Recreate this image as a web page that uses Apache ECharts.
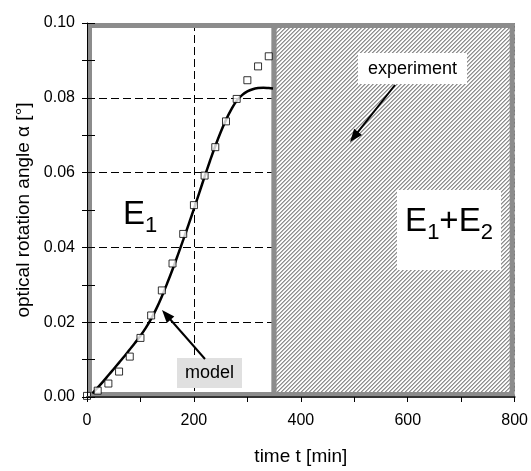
<!DOCTYPE html>
<html>
<head>
<meta charset="utf-8">
<script src="https://cdn.jsdelivr.net/npm/echarts@6/dist/echarts.min.js"></script>
<style>html,body{margin:0;padding:0;background:#fff}#c{width:531px;height:471px}</style>
</head>
<body>
<div id="c"></div>
<script>
// ---------- data ----------
const expT = [0, 20, 40, 60, 80, 100, 120, 140, 160, 180, 200, 220, 240, 260, 280, 300, 320, 340];
const expAlpha = [0.0003, 0.0017, 0.0036, 0.0068, 0.0108, 0.0158, 0.0218, 0.0285, 0.0357, 0.0436, 0.0513, 0.0592, 0.0668, 0.0737, 0.0797, 0.0847, 0.0884, 0.0911];
const modelT = [10, 20, 30, 40, 50, 60, 70, 80, 90, 100, 110, 120, 130, 140, 150, 160, 170, 180, 190, 200, 210, 220, 230, 240, 250, 260, 270, 280, 290, 300, 310, 320, 330, 340, 348];
const modelAlpha = [0.0010, 0.0025, 0.0041, 0.0058, 0.0075, 0.0092, 0.0109, 0.0127, 0.0145, 0.0164, 0.0185, 0.0209, 0.0237, 0.0269, 0.0304, 0.0341, 0.0380, 0.0420, 0.0461, 0.0503, 0.0546, 0.0589, 0.0631, 0.0671, 0.0708, 0.0741, 0.0769, 0.0792, 0.0807, 0.0817, 0.0823, 0.0826, 0.0827, 0.0826, 0.0825];
const regionStart = [0, 350];
const regionEnd = [350, 800];
const xTickLabels = [0, 200, 400, 600, 800];
const yTickLabels = [0, 0.02, 0.04, 0.06, 0.08, 0.10];

// ---------- styles ----------
const FONT = '"Liberation Sans", Arial, sans-serif';
const X_MIN = 0, X_MAX = 800, Y_MIN = 0, Y_MAX = 0.1;
const FRAME = '#8c8c8c';
const BW = 5;

// hatch pattern
const pc = document.createElement('canvas');
pc.width = 4; pc.height = 4;
const pctx = pc.getContext('2d');
const shades = ['#8e8e8e', '#b6b6b6', '#ffffff', '#f6f6f6'];
for (let y = 0; y < 4; y++) for (let x = 0; x < 4; x++) {
  pctx.fillStyle = shades[(x + y) % 4];
  pctx.fillRect(x, y, 1, 1);
}
const hatch = { image: pc, repeat: 'repeat' };

const mctx = document.createElement('canvas').getContext('2d');
function tw(t, size) { mctx.font = size + 'px ' + FONT; return mctx.measureText(t).width; }

function renderRegion(params, api) {
  const i = params.dataIndex;
  const p0 = api.coord([api.value(0), Y_MAX]);
  const p1 = api.coord([api.value(1), Y_MIN]);
  const h = BW / 2;
  const left = i === 0 ? p0[0] + h : p0[0];
  const right = i === regionStart.length - 1 ? p1[0] - h : p1[0];
  const children = [];
  if (i === 1) {
    children.push({ type: 'rect', shape: { x: p0[0], y: p0[1], width: p1[0] - p0[0], height: p1[1] - p0[1] }, style: { fill: hatch } });
  }
  children.push({ type: 'rect', shape: { x: left, y: p0[1] + h, width: right - left, height: p1[1] - p0[1] - BW }, style: { fill: 'none', stroke: FRAME, lineWidth: BW } });
  return { type: 'group', children };
}

function xFmt(v) { return xTickLabels.indexOf(v) >= 0 ? String(v) : ''; }
function yFmt(v) {
  const hit = yTickLabels.find(t => Math.abs(t - v) < 1e-9);
  return hit === undefined ? '' : hit.toFixed(2);
}

function arrow(x1, y1, x2, y2) {
  const L = 13, W = 5;
  const dx = x2 - x1, dy = y2 - y1, d = Math.hypot(dx, dy);
  const ux = dx / d, uy = dy / d;
  const bx = x2 - ux * L, by = y2 - uy * L;
  return [
    { type: 'line', z: 20, shape: { x1, y1, x2: bx + ux * 2, y2: by + uy * 2 }, style: { stroke: '#000', lineWidth: 2 } },
    { type: 'polygon', z: 20, shape: { points: [[x2, y2], [bx - uy * W, by + ux * W], [bx + uy * W, by - ux * W]] }, style: { fill: '#000' } }
  ];
}

function subLabel(parts, startX, capCenterY, big, small, subDrop) {
  const els = [];
  let x = startX;
  parts.forEach(p => {
    const size = p.sub ? small : big;
    els.push({ type: 'text', z: 20, x: x, y: p.sub ? capCenterY + subDrop : capCenterY,
      style: { text: p.t, fontSize: size, fontFamily: FONT, fill: '#000', align: 'left', verticalAlign: 'middle' } });
    x += tw(p.t, size);
  });
  return els;
}
function subWidth(parts, big, small) { return parts.reduce((s, p) => s + tw(p.t, p.sub ? small : big), 0); }

const e1 = [{ t: 'E' }, { t: '1', sub: true }];
const e12 = [{ t: 'E' }, { t: '1', sub: true }, { t: '+' }, { t: 'E' }, { t: '2', sub: true }];
const BIG = 33, SMALL = 22, DROP = 11;

const graphics = [].concat(
  [{ type: 'rect', z: 15, shape: { x: 397, y: 190, width: 104, height: 80 }, style: { fill: '#fff' } }],
  subLabel(e1, 123, 215, BIG, SMALL, DROP),
  subLabel(e12, 449 - subWidth(e12, BIG, SMALL) / 2, 222, BIG, SMALL, DROP),
  [
    { type: 'rect', z: 15, shape: { x: 358, y: 53, width: 109, height: 31 }, style: { fill: '#fff' } },
    { type: 'text', z: 20, x: 412.5, y: 69, style: { text: 'experiment', fontSize: 18, fontFamily: FONT, fill: '#000', align: 'center', verticalAlign: 'middle' } },
    { type: 'rect', z: 15, shape: { x: 177, y: 358, width: 65, height: 30 }, style: { fill: '#e0e0e0' } },
    { type: 'text', z: 20, x: 209.5, y: 373, style: { text: 'model', fontSize: 18, fontFamily: FONT, fill: '#000', align: 'center', verticalAlign: 'middle' } }
  ],
  arrow(205, 359, 162, 310),
  arrow(395, 85, 350, 142)
);

const chart = echarts.init(document.getElementById('c'), null, { renderer: 'canvas' });
chart.setOption({
  animation: false,
  backgroundColor: '#fff',
  grid: { left: 87, right: 13, top: 23, bottom: 68, containLabel: false },
  xAxis: [
    { type: 'value', min: X_MIN, max: X_MAX, interval: 100, position: 'bottom', z: 5,
      axisLine: { lineStyle: { color: '#000', width: 1 } },
      axisTick: { length: 5, lineStyle: { color: '#000' } },
      axisLabel: { formatter: xFmt, fontSize: 16, fontFamily: FONT, color: '#000', margin: 16 },
      splitLine: { show: false },
      name: 'time t [min]', nameLocation: 'middle', nameGap: 50,
      nameTextStyle: { fontSize: 19, fontFamily: FONT, color: '#000' } },
    { type: 'value', min: X_MIN, max: X_MAX, interval: 200, position: 'bottom', z: 0,
      axisLine: { show: false }, axisTick: { show: false }, axisLabel: { show: false },
      splitLine: { show: true, lineStyle: { color: '#000', width: 1, type: [8, 4] } } },
    { type: 'value', min: X_MIN, max: X_MAX, position: 'top', z: 5,
      axisLine: { lineStyle: { color: '#333', width: 2 } }, axisTick: { show: false }, axisLabel: { show: false },
      splitLine: { show: false } }
  ],
  yAxis: [
    { type: 'value', min: Y_MIN, max: Y_MAX, interval: 0.01, position: 'left', z: 5,
      axisLine: { lineStyle: { color: '#000', width: 1 } },
      axisTick: { length: 5, lineStyle: { color: '#000' } },
      axisLabel: { formatter: yFmt, fontSize: 16, fontFamily: FONT, color: '#000', margin: 12 },
      splitLine: { show: false },
      name: 'optical rotation angle α [°]', nameLocation: 'middle', nameGap: 53, nameRotate: 90,
      nameTextStyle: { fontSize: 19, fontFamily: FONT, color: '#000' } },
    { type: 'value', min: Y_MIN, max: Y_MAX, interval: 0.02, position: 'left', z: 0,
      axisLine: { show: false }, axisTick: { show: false }, axisLabel: { show: false },
      splitLine: { show: true, lineStyle: { color: '#000', width: 1, type: [8, 4] } } },
    { type: 'value', min: Y_MIN, max: Y_MAX, interval: 0.01, position: 'left', z: 5,
      axisLine: { show: false }, axisTick: { inside: true, length: 8, lineStyle: { color: '#000' } },
      axisLabel: { show: false }, splitLine: { show: false } }
  ],
  series: [
    { type: 'custom', name: 'regions', xAxisIndex: 0, yAxisIndex: 0, z: 1, clip: false, silent: true,
      renderItem: renderRegion, encode: { x: [0, 1], y: 2 },
      data: regionStart.map((s, i) => [s, regionEnd[i], Y_MIN]) },
    { type: 'line', name: 'model', xAxisIndex: 0, yAxisIndex: 0, z: 3, smooth: 0.4, showSymbol: false,
      lineStyle: { color: '#000', width: 2.5 },
      data: modelT.map((t, i) => [t, modelAlpha[i]]) },
    { type: 'scatter', name: 'experiment', xAxisIndex: 0, yAxisIndex: 0, z: 4, symbol: 'rect', symbolSize: 7,
      itemStyle: { color: '#fff', borderColor: '#000', borderWidth: 1 },
      data: expT.map((t, i) => [t, expAlpha[i]]) }
  ],
  graphic: graphics
});
</script>
</body>
</html>
